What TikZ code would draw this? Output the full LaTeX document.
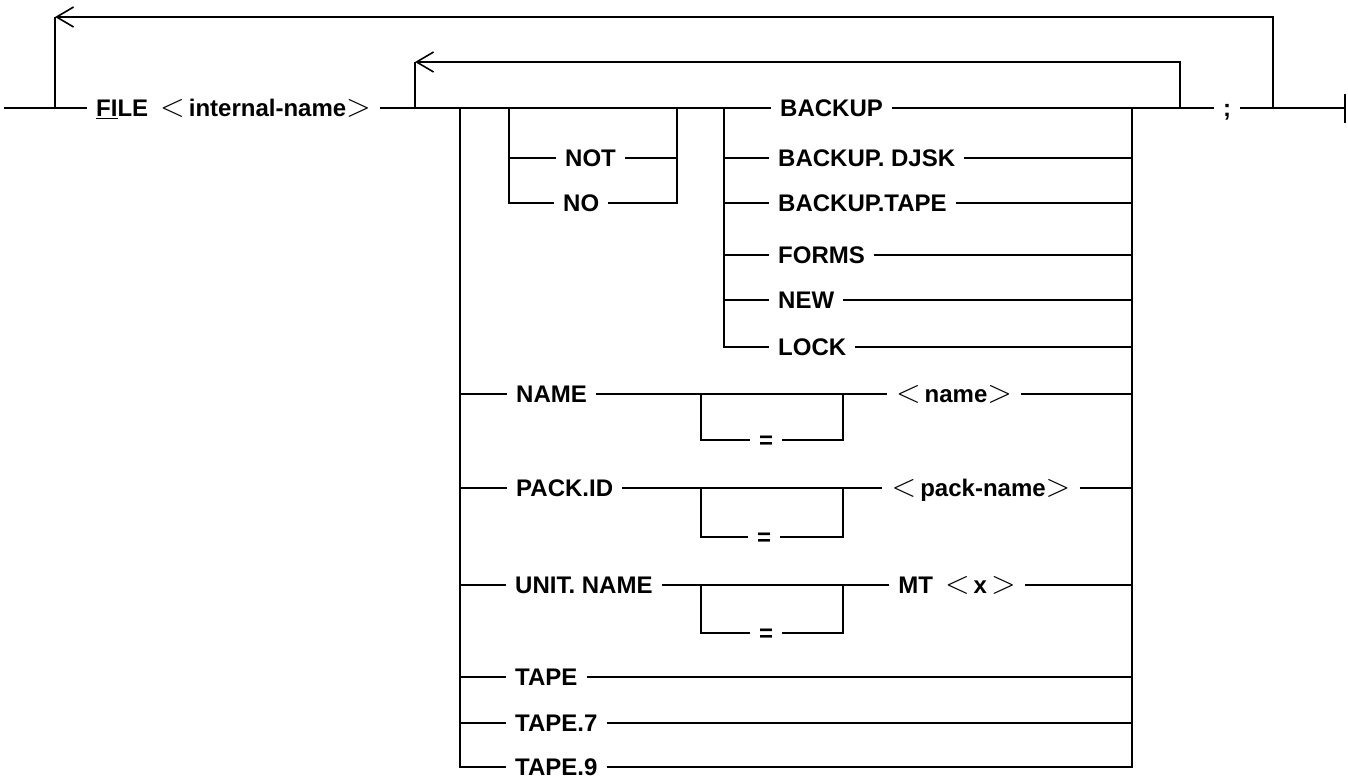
\documentclass[tikz,border=0pt]{standalone}
\usepackage{fontspec}
\usepackage{graphicx}
\setmainfont{Liberation Sans}
\usetikzlibrary{arrows.meta}
\tikzstyle{word}=[inner xsep=9pt,inner ysep=0pt,text height=17.2pt,text depth=0pt]
\tikzstyle{line}=[line width=1.6pt]
\tikzstyle{back}=[line width=1.6pt,-{Straight Barb[length=17pt,width=20pt]}]
\newcommand{\lt}{\scalebox{1.3}{$<$}}
\newcommand{\gt}{\scalebox{1.3}{$>$}}

\begin{document}
\begin{tikzpicture}[x=1pt,y=-1pt,font=\fontsize{24pt}{29pt}\selectfont\bfseries]
            \useasboundingbox (0,0) rectangle (1348,779);
            % junctions of the main line
            \coordinate (start) at (4,108);
            \coordinate (outerL) at (55,108);
            \coordinate (outerLt) at (55,17);
            \coordinate (innerL) at (415,108);
            \coordinate (innerLt) at (415,62);
            \coordinate (altL) at (460,108);
            \coordinate (notL) at (509,108);
            \coordinate (notR) at (677,108);
            \coordinate (bakL) at (724,108);
            \coordinate (altR) at (1132,108);
            \coordinate (innerR) at (1180,108);
            \coordinate (innerRt) at (1180,62);
            \coordinate (outerR) at (1273,108);
            \coordinate (outerRt) at (1273,17);
            \coordinate (stop) at (1345,108);
            % optional = boxes
            \coordinate (nameEqL) at (701,394);
            \coordinate (nameEqR) at (843,394);
            \coordinate (packEqL) at (701,488);
            \coordinate (packEqR) at (843,488);
            \coordinate (unitEqL) at (701,585);
            \coordinate (unitEqR) at (843,585);
            % words
            \node (file)[word,anchor=west] at (87,108) {\underline{FI}LE\enspace\lt\,internal-name\gt};
            \node (not)[word,anchor=west] at (556,158) {NOT};
            \node (no)[word,anchor=west] at (554,203) {NO};
            \node (backup)[word,anchor=west] at (771,108) {BACKUP};
            \node (bdisk)[word,anchor=west] at (769,158) {BACKUP. DJSK};
            \node (btape)[word,anchor=west] at (769,203) {BACKUP.TAPE};
            \node (forms)[word,anchor=west] at (769,255) {FORMS};
            \node (new)[word,anchor=west] at (769,300) {NEW};
            \node (lock)[word,anchor=west] at (769,347) {LOCK};
            \node (name)[word,anchor=west] at (507,394) {NAME};
            \node (packid)[word,anchor=west] at (507,488) {PACK.ID};
            \node (unitname)[word,anchor=west] at (506,585) {UNIT. NAME};
            \node (tape)[word,anchor=west] at (506,677) {TAPE};
            \node (tape7)[word,anchor=west] at (506,723) {TAPE.7};
            \node (tape9)[word,anchor=west] at (506,767) {TAPE.9};
            \node (eq1)[word] at (766,440) {=};
            \node (eq2)[word] at (764,537) {=};
            \node (eq3)[word] at (766,633) {=};
            \node (valname)[word] at (954,394) {\lt\,name\gt};
            \node (valpack)[word] at (981,488) {\lt\,pack-name\gt};
            \node (valmt)[word] at (957,585) {MT\enspace\lt\,x\,\gt};
            \node (semi)[word] at (1227,108) {;};
            % main line
            \draw [line] (start) -- (file) -- (backup) -- (semi) -- (stop);
            \draw [line] ([yshift=14pt]stop) -- ([yshift=-15pt]stop);
            % loops back
            \draw [back] (outerR) -- (outerRt) -- (outerLt);
            \draw [line] (outerLt) -- (outerL);
            \draw [back] (innerR) -- (innerRt) -- (innerLt);
            \draw [line] (innerLt) -- (innerL);
            % NOT / NO
            \draw [line] (notL) |- (no) -| (notR);
            \draw [line] (not -| notL) -- (not) -- (not -| notR);
            % BACKUP column
            \draw [line] (bakL) |- (lock) -- (lock -| altR);
            \draw [line] (bdisk -| bakL) -- (bdisk) -- (bdisk -| altR);
            \draw [line] (btape -| bakL) -- (btape) -- (btape -| altR);
            \draw [line] (forms -| bakL) -- (forms) -- (forms -| altR);
            \draw [line] (new -| bakL) -- (new) -- (new -| altR);
            % alternatives
            \draw [line] (altL) |- (tape9) -- (tape9 -| altR) -- (altR);
            \draw [line] (name -| altL) -- (name) -- (valname) -- (valname -| altR);
            \draw [line] (nameEqL) |- (eq1) -| (nameEqR);
            \draw [line] (packid -| altL) -- (packid) -- (valpack) -- (valpack -| altR);
            \draw [line] (packEqL) |- (eq2) -| (packEqR);
            \draw [line] (unitname -| altL) -- (unitname) -- (valmt) -- (valmt -| altR);
            \draw [line] (unitEqL) |- (eq3) -| (unitEqR);
            \draw [line] (tape -| altL) -- (tape) -- (tape -| altR);
            \draw [line] (tape7 -| altL) -- (tape7) -- (tape7 -| altR);
        \end{tikzpicture}
\end{document}
